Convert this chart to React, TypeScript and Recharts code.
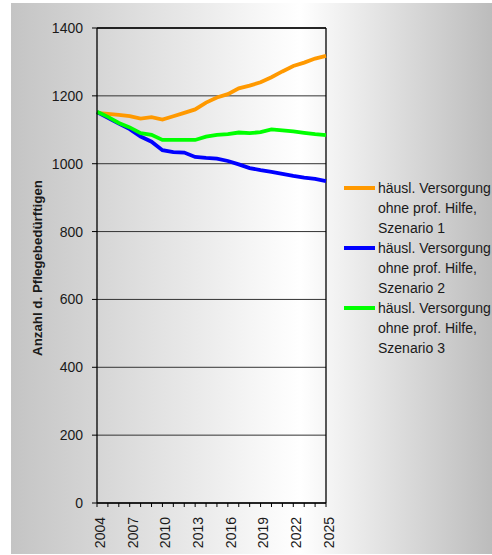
import React from 'react';
import { LineChart, Line, XAxis, YAxis, CartesianGrid, Legend, ReferenceLine } from 'recharts';

// years on the x axis
const years = [
  2004, 2005, 2006, 2007, 2008, 2009, 2010, 2011, 2012, 2013, 2014,
  2015, 2016, 2017, 2018, 2019, 2020, 2021, 2022, 2023, 2024, 2025,
];

// Szenario 1 (orange)
const szenario1 = [
  1150, 1147, 1144, 1140, 1133, 1137, 1130, 1140, 1150, 1160, 1180,
  1195, 1205, 1222, 1230, 1240, 1255, 1272, 1288, 1298, 1310, 1318,
];

// Szenario 2 (blue)
const szenario2 = [
  1152, 1135, 1118, 1102, 1080, 1065, 1040, 1034, 1033, 1020, 1017,
  1015, 1008, 998, 987, 981, 976, 970, 964, 959, 955, 949,
];

// Szenario 3 (green)
const szenario3 = [
  1153, 1138, 1120, 1107, 1090, 1085, 1070, 1070, 1070, 1070, 1080,
  1085, 1087, 1092, 1090, 1093, 1101, 1098, 1095, 1091, 1087, 1084,
];

const yTicks = [0, 200, 400, 600, 800, 1000, 1200, 1400];
const labelEvery = 3;

const series = [
  { key: 's1', name: 'häusl. Versorgung ohne prof. Hilfe, Szenario 1', lines: ['häusl. Versorgung', 'ohne prof. Hilfe,', 'Szenario 1'], color: '#ff9900' },
  { key: 's2', name: 'häusl. Versorgung ohne prof. Hilfe, Szenario 2', lines: ['häusl. Versorgung', 'ohne prof. Hilfe,', 'Szenario 2'], color: '#0000ff' },
  { key: 's3', name: 'häusl. Versorgung ohne prof. Hilfe, Szenario 3', lines: ['häusl. Versorgung', 'ohne prof. Hilfe,', 'Szenario 3'], color: '#00ff00' },
];

const yLabel = 'Anzahl d. Pflegebedürftigen';

const data = years.map((year, i) => ({
  year,
  s1: szenario1[i],
  s2: szenario2[i],
  s3: szenario3[i],
}));

const FONT = '"Liberation Sans", Arial, sans-serif';
const FS = 14;

function YearTick(props: any) {
  const { x, y, payload } = props;
  if ((payload.value - years[0]) % labelEvery !== 0) return null;
  return (
    <text
      transform={`translate(${x + 3},${y + 8}) rotate(-90)`}
      textAnchor="end"
      dy="0.35em"
      fontFamily={FONT}
      fontSize={FS}
      fill="#1a1a1a"
    >
      {payload.value}
    </text>
  );
}

function renderLegend() {
  return (
    <div style={{ fontFamily: FONT, fontSize: FS, color: '#1a1a1a', whiteSpace: 'nowrap' }}>
      {series.map((s) => (
        <div key={s.key} style={{ position: 'relative', height: 60 }}>
          <div style={{ position: 'absolute', left: 0, top: 8, width: 31, height: 3.5, background: s.color }} />
          <div style={{ position: 'absolute', left: 34, top: 0, lineHeight: '20px' }}>
            {s.lines.map((l) => (
              <div key={l}>{l}</div>
            ))}
          </div>
        </div>
      ))}
    </div>
  );
}

export default function App() {
  return (
    <div style={{ position: 'absolute', left: 0, top: 0, width: 492, height: 555, overflow: 'hidden', background: '#fff' }}>
      <div
        style={{
          position: 'absolute',
          left: 11,
          top: 3,
          width: 481,
          height: 551,
          background: 'linear-gradient(to right, #c4c4c4 0%, #ffffff 60%, #bcbcbc 100%)',
        }}
      />
      <div style={{ position: 'absolute', left: 0, top: 0 }}>
        <LineChart width={492} height={555} data={data} margin={{ top: 28, right: 166, bottom: 0, left: 0 }}>
          <CartesianGrid vertical={false} stroke="#333" strokeWidth={1} />
          <XAxis
            dataKey="year"
            interval={0}
            height={52}
            tickSize={4}
            tickLine={{ stroke: '#000' }}
            axisLine={{ stroke: '#000', strokeWidth: 1.3 }}
            tick={<YearTick />}
          />
          <YAxis
            width={97}
            domain={[0, 1400]}
            ticks={yTicks}
            tickSize={5}
            tickMargin={9}
            tickLine={{ stroke: '#000' }}
            axisLine={{ stroke: '#000', strokeWidth: 1.3 }}
            tick={{ fontFamily: FONT, fontSize: FS, fill: '#1a1a1a' }}
            label={{
              content: () => (
                <text
                  transform="translate(37,268) rotate(-90)"
                  textAnchor="middle"
                  dy="0.35em"
                  fontFamily={FONT}
                  fontSize={13.3}
                  fontWeight="bold"
                  fill="#1a1a1a"
                >
                  {yLabel}
                </text>
              ),
            }}
          />
          <ReferenceLine x={2025} stroke="#000" strokeWidth={1.3} />
          <ReferenceLine y={1400} stroke="#000" strokeWidth={1.3} />
          <Legend
            layout="vertical"
            align="center"
            verticalAlign="middle"
            wrapperStyle={{ left: 344, top: 178, width: 200 }}
            content={renderLegend}
          />
          {series.map((s) => (
            <Line
              key={s.key}
              type="linear"
              dataKey={s.key}
              name={s.name}
              stroke={s.color}
              strokeWidth={3.8}
              dot={false}
              isAnimationActive={false}
            />
          ))}
        </LineChart>
      </div>
    </div>
  );
}
